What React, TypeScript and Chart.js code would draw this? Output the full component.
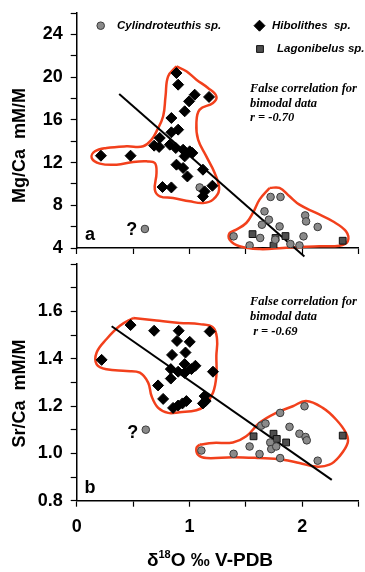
import React, { useEffect, useRef } from 'react';
import { Chart, registerables } from 'chart.js';
Chart.register(...registerables);

// ---------- DATA ----------
// Panel a: Mg/Ca (mM/M) vs δ18O
const hibX_mg = [0.215, 0.478, 0.885, 0.9, 1.047, 0.997, 1.174, 0.958, 0.84, 0.9, 0.84, 0.737, 0.687, 0.731, 0.826, 0.879, 0.944, 1.003, 0.958, 1.026, 0.885, 0.944, 0.982, 1.12, 0.761, 0.84, 1.204, 1.135, 1.12];
const hibY_mg = [12.64, 12.64, 20.38, 19.29, 18.35, 17.73, 18.14, 16.8, 16.17, 15.08, 14.83, 14.3, 13.58, 13.46, 13.67, 13.36, 13.2, 13.05, 12.58, 12.9, 11.8, 11.49, 10.7, 11.33, 9.71, 9.67, 9.83, 9.3, 8.83];
const cylX_mg = [0.605, 1.091, 1.392, 1.534, 1.628, 1.666, 1.705, 1.643, 1.72, 1.808, 1.8, 1.761, 1.896, 1.976, 2.012, 2.027, 2.035, 2.138];
const cylY_mg = [5.78, 9.67, 5.09, 4.24, 4.94, 7.43, 6.65, 6.18, 8.78, 8.78, 6.02, 4.78, 4.37, 4.24, 5.09, 7.05, 6.49, 5.97];
const lagX_mg = [1.56, 1.852, 1.746, 1.764, 2.36];
const lagY_mg = [5.3, 5.12, 4.22, 4.94, 4.68];
const fitX_mg = [0.377, 2.02];
const fitY_mg = [18.42, 3.21];
const outlineAX_mg = [0.885, 0.973, 1.062, 1.165, 1.239, 1.209, 1.091, 1.062, 1.077, 1.15, 1.224, 1.263, 1.209, 1.121, 1.003, 0.855, 0.737, 0.693, 0.708, 0.693, 0.619, 0.501, 0.354, 0.206, 0.133, 0.162, 0.265, 0.442, 0.59, 0.664, 0.708, 0.767, 0.788, 0.811];
const outlineAY_mg = [21.01, 20.54, 19.76, 18.98, 18.2, 17.58, 16.95, 15.7, 14.14, 12.58, 11.02, 9.46, 8.53, 8.21, 8.37, 8.68, 8.84, 9.46, 11.02, 11.96, 12.11, 12.05, 11.8, 11.9, 12.43, 13.05, 13.36, 13.52, 13.52, 14.14, 14.92, 16.33, 18.2, 20.07];
const outlineBX_mg = [1.711, 1.799, 1.888, 1.976, 2.124, 2.271, 2.389, 2.404, 2.33, 2.153, 1.976, 1.829, 1.622, 1.445, 1.357, 1.357, 1.416, 1.504, 1.563, 1.622];
const outlineBY_mg = [9.62, 9.62, 8.84, 8.06, 7.28, 6.5, 5.56, 4.62, 4.22, 4.16, 4.09, 4.0, 3.9, 4.16, 4.78, 5.4, 5.72, 6.34, 7.28, 8.53];

// Panel b: Sr/Ca (mM/M) vs δ18O
const hibX_sr = [0.221, 0.478, 0.687, 0.905, 1.18, 0.89, 1.003, 0.965, 0.846, 1.053, 1.018, 0.958, 0.835, 0.9, 0.958, 1.209, 0.835, 0.722, 0.767, 0.855, 0.9, 0.938, 0.973, 1.135, 1.144, 1.12];
const hibY_sr = [1.395, 1.542, 1.518, 1.518, 1.515, 1.475, 1.471, 1.426, 1.416, 1.37, 1.356, 1.377, 1.356, 1.345, 1.34, 1.345, 1.316, 1.287, 1.23, 1.192, 1.202, 1.211, 1.221, 1.242, 1.221, 1.211];
const cylX_sr = [0.613, 1.106, 1.392, 1.534, 1.622, 1.637, 1.675, 1.717, 1.726, 1.77, 1.805, 1.805, 1.888, 1.976, 2.021, 2.03, 2.041, 2.138];
const cylY_sr = [1.1, 1.012, 0.998, 1.029, 0.997, 1.117, 1.126, 1.046, 1.018, 1.029, 1.171, 0.98, 1.112, 1.083, 1.199, 1.069, 1.055, 0.969];
const lagX_sr = [1.569, 1.746, 1.775, 1.858, 2.36];
const lagY_sr = [1.072, 1.083, 1.061, 1.046, 1.075];
const fitX_sr = [0.31, 2.263];
const fitY_sr = [1.537, 0.888];
const outlineAX_sr = [0.501, 0.708, 0.914, 1.091, 1.209, 1.245, 1.239, 1.239, 1.209, 1.136, 1.062, 0.914, 0.811, 0.723, 0.664, 0.634, 0.56, 0.442, 0.265, 0.177, 0.177, 0.265, 0.383];
const outlineAY_sr = [1.572, 1.561, 1.551, 1.546, 1.532, 1.483, 1.412, 1.327, 1.256, 1.202, 1.182, 1.174, 1.171, 1.192, 1.242, 1.299, 1.341, 1.348, 1.355, 1.376, 1.426, 1.483, 1.539];
const outlineBX_sr = [1.091, 1.209, 1.386, 1.504, 1.622, 1.77, 1.917, 2.035, 2.183, 2.301, 2.389, 2.404, 2.33, 2.242, 2.124, 1.976, 1.829, 1.622, 1.386, 1.15, 1.077, 1.062];
const outlineBY_sr = [1.037, 1.044, 1.046, 1.072, 1.129, 1.171, 1.199, 1.221, 1.192, 1.143, 1.086, 1.044, 0.987, 0.952, 0.944, 0.959, 0.973, 0.98, 0.984, 0.98, 0.994, 1.022];

const seriesNames = ['Cylindroteuthis sp.', 'Hibolithes  sp.', 'Lagonibelus sp.'];
const xTitleParts = ['δ', '18', 'O ‰ V-PDB'];
const yTitleA = 'Mg/Ca  mM/M';
const yTitleB = 'Sr/Ca  mM/M';
const noteLines = ['False correlation for', 'bimodal data'];
const rA = 'r = -0.70';
const rB = ' r = -0.69';

// ---------- STYLE / LAYOUT ----------
const RED = '#f2401c';
const SANS = 'Arial, "Liberation Sans", sans-serif';
const SERIF = '"Liberation Serif", "Times New Roman", serif';
const PAD = 20;           // fixed inner padding (>= label overflow)
const TOP_CANVAS_Y = -7;  // page y of top canvas
const TOP_CANVAS_H = 275;
const BOT_CANVAS_Y = 244;
const BOT_CANVAS_H = 328;
const BOT_XAXIS_H = BOT_CANVAS_H - (500.7 - BOT_CANVAS_Y);

const pts = (xs: number[], ys: number[]) => xs.map((x, i) => ({ x, y: ys[i] }));
const closed = (xs: number[], ys: number[]) => {
  const p = pts(xs, ys);
  return [...p, p[0]];
};

function pointSets(cx, cy, hx, hy, lx, ly) {
  return [
    { label: seriesNames[1], data: pts(hx, hy), pointStyle: 'rectRot', pointRadius: 5.5, backgroundColor: '#000', borderColor: '#000', borderWidth: 1, showLine: false },
    { label: seriesNames[0], data: pts(cx, cy), pointStyle: 'circle', pointRadius: 3.8, backgroundColor: '#8a8a8a', borderColor: '#3a3a3a', borderWidth: 1, showLine: false },
    { label: seriesNames[2], data: pts(lx, ly), pointStyle: 'rect', pointRadius: 4.8, backgroundColor: '#4f4f4f', borderColor: '#111', borderWidth: 1, showLine: false },
  ];
}
function lineSet(data, color, width, tension) {
  return { data, showLine: true, pointRadius: 0, borderColor: color, backgroundColor: color, borderWidth: width, tension, fill: false, clip: false };
}

// items positioned in page coordinates; dy converts to canvas coordinates
const textPlugin = (items, dy: number) => ({
  id: 'customText',
  afterDraw(chart) {
    const ctx = chart.ctx;
    for (const it of items) {
      const y = it.y + dy;
      ctx.save();
      ctx.fillStyle = '#000';
      ctx.textBaseline = 'middle';
      if (it.kind === 'marker') {
        ctx.beginPath();
        if (it.shape === 'circle') {
          ctx.arc(it.x, y, 3.8, 0, Math.PI * 2);
          ctx.fillStyle = '#8a8a8a'; ctx.strokeStyle = '#3a3a3a';
        } else if (it.shape === 'diamond') {
          ctx.moveTo(it.x, y - 5.5); ctx.lineTo(it.x + 5.5, y); ctx.lineTo(it.x, y + 5.5); ctx.lineTo(it.x - 5.5, y); ctx.closePath();
          ctx.fillStyle = '#000'; ctx.strokeStyle = '#000';
        } else {
          ctx.rect(it.x - 3.4, y - 3.4, 6.8, 6.8);
          ctx.fillStyle = '#4f4f4f'; ctx.strokeStyle = '#111';
        }
        ctx.lineWidth = 1; ctx.fill(); ctx.stroke();
      } else if (it.kind === 'runs') {
        let total = 0;
        for (const r of it.runs) { ctx.font = r.font; total += ctx.measureText(r.text).width; }
        let x = it.x - total / 2;
        for (const r of it.runs) {
          ctx.font = r.font; ctx.textAlign = 'left';
          ctx.fillText(r.text, x, y + (r.dy || 0));
          x += ctx.measureText(r.text).width;
        }
      } else {
        ctx.font = it.font;
        ctx.textAlign = it.align || 'left';
        ctx.translate(it.x, y);
        if (it.rotate) ctx.rotate(it.rotate);
        ctx.fillText(it.text, 0, 0);
      }
      ctx.restore();
    }
  },
});

const tickFontY = { family: SANS, size: 18, weight: 'bold' as const };
const tickFontX = { family: SANS, size: 18, weight: 'bold' as const, lineHeight: 2.3 };

function xScale(showLabels: boolean, height: number) {
  return {
    type: 'linear', min: 0, max: 2.5,
    ticks: {
      stepSize: 0.5, autoSkip: false, maxRotation: 0, color: '#000', font: tickFontX, padding: 0,
      callback: (v) => (showLabels && Number.isInteger(v) ? String(v) : ''),
    },
    grid: { drawOnChartArea: false, drawTicks: true, tickLength: 6, color: '#000', tickWidth: 1.2 },
    border: { display: true, color: '#000', width: 1.5 },
    afterFit: (s) => { s.height = height; },
  };
}
function yScale(min, max, step, labelFn) {
  return {
    type: 'linear', min, max,
    ticks: { stepSize: step, autoSkip: false, color: '#000', font: tickFontY, padding: 8, callback: labelFn },
    grid: { drawOnChartArea: false, drawTicks: true, tickLength: 6, color: '#000', tickWidth: 1.2 },
    border: { display: true, color: '#000', width: 1.5 },
    afterFit: (s) => { s.width = 76.7; },
  };
}

const noteFont = `italic bold 12.5px ${SERIF}`;
const legendFont = `italic bold 11.5px ${SANS}`;

export default function App() {
  const topRef = useRef<HTMLCanvasElement>(null);
  const botRef = useRef<HTMLCanvasElement>(null);

  useEffect(() => {
    const common = {
      animation: false, responsive: false, events: [],
      plugins: { legend: { display: false }, tooltip: { enabled: false } },
    };

    const topChart = new Chart(topRef.current, {
      type: 'scatter',
      data: {
        datasets: [
          ...pointSets(cylX_mg, cylY_mg, hibX_mg, hibY_mg, lagX_mg, lagY_mg),
          lineSet(pts(fitX_mg, fitY_mg), '#000', 2, 0),
          lineSet(closed(outlineAX_mg, outlineAY_mg), RED, 2.5, 0.4),
          lineSet(closed(outlineBX_mg, outlineBY_mg), RED, 2.5, 0.4),
        ],
      },
      options: {
        ...common,
        layout: { padding: { top: PAD, right: 3, left: 0, bottom: 0 } },
        scales: {
          x: xScale(false, PAD),
          y: yScale(4, 26, 2, (v) => (v % 4 === 0 ? String(v) : '')),
        },
      },
      plugins: [textPlugin([
        { kind: 'marker', shape: 'circle', x: 100.7, y: 25.7 },
        { text: seriesNames[0], x: 117, y: 26, font: legendFont },
        { kind: 'marker', shape: 'diamond', x: 259.5, y: 25.7 },
        { text: seriesNames[1], x: 272, y: 26, font: legendFont },
        { kind: 'marker', shape: 'square', x: 260, y: 49 },
        { text: seriesNames[2], x: 277, y: 49, font: legendFont },
        { text: noteLines[0], x: 250, y: 89, font: noteFont },
        { text: noteLines[1], x: 250, y: 103.5, font: noteFont },
        { text: rA, x: 250, y: 118, font: noteFont },
        { text: 'a', x: 90, y: 235, font: `bold 18px ${SANS}`, align: 'center' },
        { text: '?', x: 131.7, y: 230, font: `bold 18px ${SANS}`, align: 'center' },
        { text: yTitleA, x: 20, y: 145.5, font: `bold 18px ${SANS}`, align: 'center', rotate: -Math.PI / 2 },
      ], -TOP_CANVAS_Y)],
    } as any);

    const botChart = new Chart(botRef.current, {
      type: 'scatter',
      data: {
        datasets: [
          ...pointSets(cylX_sr, cylY_sr, hibX_sr, hibY_sr, lagX_sr, lagY_sr),
          lineSet(pts(fitX_sr, fitY_sr), '#000', 2, 0),
          lineSet(closed(outlineAX_sr, outlineAY_sr), RED, 2.5, 0.4),
          lineSet(closed(outlineBX_sr, outlineBY_sr), RED, 2.5, 0.4),
        ],
      },
      options: {
        ...common,
        layout: { padding: { top: PAD, right: 3, left: 0, bottom: 0 } },
        scales: {
          x: xScale(true, BOT_XAXIS_H),
          y: yScale(0.8, 1.8, 0.1, (v) => {
            const r = Math.round(v * 10);
            return r % 2 === 0 && r <= 16 ? (r / 10).toFixed(1) : '';
          }),
        },
      },
      plugins: [textPlugin([
        { text: noteLines[0], x: 250, y: 301.7, font: noteFont },
        { text: noteLines[1], x: 250, y: 316.7, font: noteFont },
        { text: rB, x: 250, y: 331.7, font: noteFont },
        { text: 'b', x: 90, y: 488, font: `bold 18px ${SANS}`, align: 'center' },
        { text: '?', x: 132.7, y: 433, font: `bold 18px ${SANS}`, align: 'center' },
        { text: yTitleB, x: 20, y: 393.5, font: `bold 18px ${SANS}`, align: 'center', rotate: -Math.PI / 2 },
        { kind: 'runs', x: 210, y: 561, runs: [
          { text: xTitleParts[0], font: `bold 19px ${SANS}` },
          { text: xTitleParts[1], font: `bold 11px ${SANS}`, dy: -6 },
          { text: xTitleParts[2], font: `bold 19px ${SANS}` },
        ] },
      ], -BOT_CANVAS_Y)],
    } as any);

    return () => { topChart.destroy(); botChart.destroy(); };
  }, []);

  return (
    <div style={{ position: 'absolute', left: 0, top: 0, width: 365, height: 572, background: '#fff', overflow: 'hidden' }}>
      <canvas ref={topRef} width={365} height={TOP_CANVAS_H} style={{ position: 'absolute', left: 0, top: TOP_CANVAS_Y, width: 365, height: TOP_CANVAS_H }} />
      <canvas ref={botRef} width={365} height={BOT_CANVAS_H} style={{ position: 'absolute', left: 0, top: BOT_CANVAS_Y, width: 365, height: BOT_CANVAS_H }} />
    </div>
  );
}
